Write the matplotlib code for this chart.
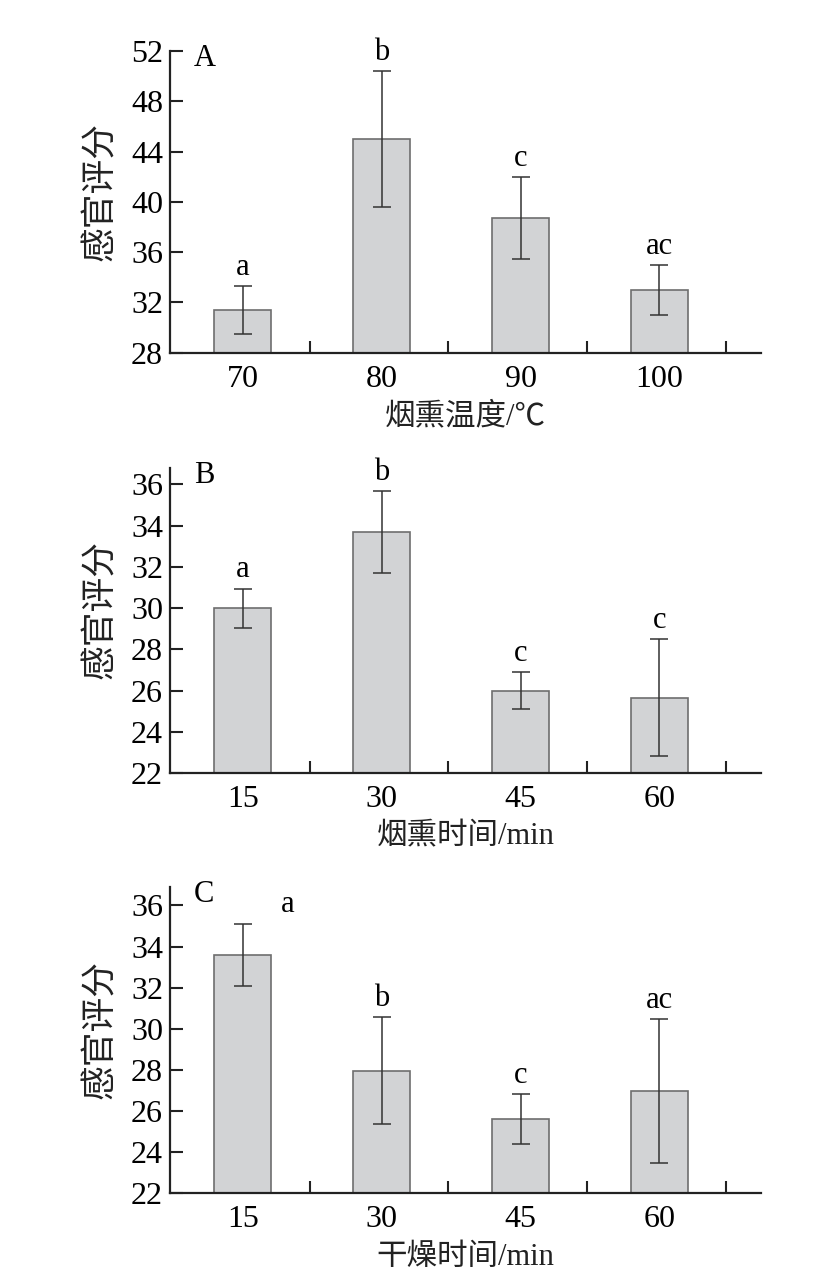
import matplotlib
matplotlib.use('Agg')
import matplotlib.pyplot as plt

plt.rcParams['font.family'] = ['Liberation Serif', 'Noto Sans CJK SC', 'DejaVu Sans']

## data
temp_labels = ['70', '80', '90', '100']
temp_mean = [31.4, 45.0, 38.7, 33.0]
temp_err = [1.9, 5.4, 3.25, 2.0]
temp_sig = ['a', 'b', 'c', 'ac']

smoke_labels = ['15', '30', '45', '60']
smoke_mean = [30.0, 33.7, 26.0, 25.65]
smoke_err = [0.95, 2.0, 0.9, 2.85]
smoke_sig = ['a', 'b', 'c', 'c']

dry_labels = ['15', '30', '45', '60']
dry_mean = [33.6, 27.95, 25.6, 26.95]
dry_err = [1.5, 2.6, 1.2, 3.5]
dry_sig = ['a', 'b', 'c', 'ac']

panels = [
    ('A', temp_labels, temp_mean, temp_err, temp_sig, '烟熏温度/℃', (28, 52), range(28, 53, 4)),
    ('B', smoke_labels, smoke_mean, smoke_err, smoke_sig, '烟熏时间/min', (22, 36.8), range(22, 37, 2)),
    ('C', dry_labels, dry_mean, dry_err, dry_sig, '干燥时间/min', (22, 36.9), range(22, 37, 2)),
]

# axes boxes in figure fraction (left, bottom, width, height)
boxes = [
    (0.2043, 0.7247, 0.710, 0.2355),
    (0.2043, 0.3966, 0.710, 0.2381),
    (0.2043, 0.0687, 0.710, 0.2389),
]

fig = plt.figure(figsize=(8.32, 12.81), dpi=100)

for (tag, labels, mean, err, sig, xlabel, ylim, yticks), box in zip(panels, boxes):
    ax = fig.add_axes(box)
    x = list(range(len(labels)))
    ax.bar(x, mean, width=0.41, color='#d2d3d5', edgecolor='#6e6e6e', linewidth=1.2, zorder=2)
    ax.errorbar(x, mean, yerr=err, fmt='none', ecolor='#333333', elinewidth=1.1,
                capsize=6.5, capthick=1.1, zorder=3)

    for i in x:
        top = mean[i] + err[i]
        if tag == 'C' and i == 0:
            # this letter sits off to the right in the original
            ax.text(0.32, 35.7, sig[i], fontsize=22, ha='center', va='baseline')
        else:
            ax.annotate(sig[i], xy=(i, top), xytext=(0, 8), textcoords='offset points',
                        ha='center', va='baseline', fontsize=22)

    ax.annotate(tag, xy=(0.04, 1.0), xycoords='axes fraction', xytext=(0, -11),
                textcoords='offset points', ha='left', va='baseline', fontsize=22)

    ax.set_xlim(-0.525, 3.73)
    ax.set_ylim(*ylim)
    ax.set_xticks(x)
    ax.set_xticklabels(labels)
    ax.set_xticks([i + 0.48 for i in x], minor=True)
    ax.set_yticks(list(yticks))

    ax.tick_params(axis='x', which='major', length=0, pad=9, labelsize=23)
    ax.tick_params(axis='x', which='minor', direction='in', length=8.6, width=1.5, color='#222222')
    ax.tick_params(axis='y', which='major', direction='in', length=9, width=1.5,
                   color='#222222', pad=5, labelsize=23)

    for s in ['top', 'right']:
        ax.spines[s].set_visible(False)
    for s in ['left', 'bottom']:
        ax.spines[s].set_linewidth(1.6)
        ax.spines[s].set_color('#222222')

    ax.set_ylabel('感官评分', fontsize=25, color='#222222')
    ax.yaxis.set_label_coords(-0.088, 0.535)
    ax.set_xlabel(xlabel, fontsize=22, color='#222222', labelpad=6)

plt.savefig('out.png', dpi=100)
